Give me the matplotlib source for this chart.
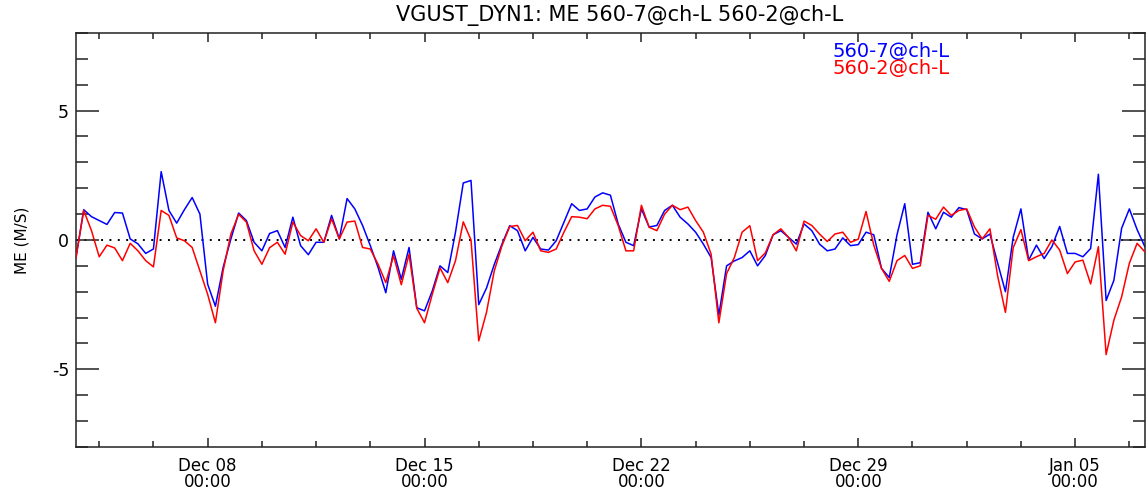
import pandas as pd
import matplotlib
matplotlib.use('Agg')
import matplotlib.pyplot as plt
from matplotlib.ticker import MultipleLocator, AutoMinorLocator

plt.rcParams['axes.unicode_minus'] = False
plt.rcParams['font.family'] = 'DejaVu Sans'

# 6-hourly samples, Dec 03 18:00 .. Jan 07 06:00
start_time = '2014-12-03 18:00'
n_samples = 139

me_560_7 = [
    -0.68, 1.17, 0.90, 0.75, 0.60, 1.06, 1.04, 0.04, -0.15, -0.52,
    -0.35, 2.64, 1.14, 0.65, 1.17, 1.64, 1.00, -1.71, -2.56, -1.06,
    0.04, 1.04, 0.75, -0.09, -0.42, 0.25, 0.36, -0.29, 0.88, -0.22,
    -0.57, -0.09, -0.09, 0.95, 0.04, 1.60, 1.20, 0.56, -0.22, -1.06,
    -2.04, -0.42, -1.52, -0.29, -2.62, -2.74, -1.97, -1.00, -1.26, 0.30,
    2.20, 2.30, -2.50, -1.86, -0.95, -0.16, 0.55, 0.36, -0.42, 0.10,
    -0.35, -0.39, -0.03, 0.69, 1.40, 1.14, 1.20, 1.66, 1.82, 1.73,
    0.62, -0.09, -0.22, 1.20, 0.50, 0.56, 1.14, 1.34, 0.88, 0.62,
    0.30, -0.16, -0.68, -2.90, -1.00, -0.81, -0.68, -0.42, -1.00, -0.60,
    0.20, 0.36, 0.10, -0.16, 0.62, 0.36, -0.16, -0.42, -0.35, 0.08,
    -0.22, -0.18, 0.30, 0.20, -1.10, -1.45, 0.20, 1.40, -0.94, -0.88,
    1.07, 0.43, 1.07, 0.88, 1.25, 1.17, 0.23, 0.04, 0.23, -0.90,
    -2.00, 0.10, 1.20, -0.78, -0.20, -0.72, -0.26, 0.52, -0.52, -0.52,
    -0.65, -0.33, 2.54, -2.34, -1.56, 0.45, 1.20, 0.40, -0.26,
]

me_560_2 = [
    -0.68, 1.14, 0.36, -0.65, -0.20, -0.31, -0.80, -0.13, -0.42, -0.80,
    -1.04, 1.14, 0.95, 0.08, -0.03, -0.29, -1.19, -2.10, -3.20, -1.19,
    0.23, 0.99, 0.69, -0.42, -0.94, -0.30, -0.09, -0.55, 0.69, 0.17,
    -0.03, 0.43, -0.09, 0.82, 0.04, 0.69, 0.73, -0.29, -0.35, -0.94,
    -1.65, -0.61, -1.73, -0.55, -2.64, -3.20, -2.10, -1.08, -1.65, -0.80,
    0.70, 0.00, -3.90, -2.80, -1.20, -0.22, 0.52, 0.56, -0.03, 0.30,
    -0.42, -0.48, -0.35, 0.30, 0.90, 0.88, 0.82, 1.20, 1.34, 1.30,
    0.56, -0.42, -0.42, 1.34, 0.49, 0.36, 1.00, 1.34, 1.17, 1.27,
    0.75, 0.30, -0.55, -3.20, -1.30, -0.68, 0.30, 0.55, -0.80, -0.50,
    0.20, 0.43, 0.10, -0.42, 0.73, 0.56, 0.23, -0.06, 0.23, 0.30,
    -0.09, 0.03, 1.10, -0.20, -1.10, -1.60, -0.80, -0.60, -1.10, -1.00,
    0.95, 0.80, 1.27, 0.95, 1.14, 1.20, 0.50, 0.04, 0.43, -1.40,
    -2.80, -0.30, 0.40, -0.80, -0.65, -0.52, 0.00, -0.39, -1.30, -0.85,
    -0.78, -1.70, -0.26, -4.43, -3.10, -2.20, -0.90, -0.13, -0.46,
]

tick_dates = ['2014-12-08', '2014-12-15', '2014-12-22', '2014-12-29', '2015-01-05']
tick_labels = ['Dec 08\n00:00', 'Dec 15\n00:00', 'Dec 22\n00:00', 'Dec 29\n00:00', 'Jan 05\n00:00']

times = pd.date_range(start_time, periods=n_samples, freq='6h')

fig = plt.figure(figsize=(11.46, 4.9), dpi=100)
ax = fig.add_axes([0.0663, 0.0878, 0.9327, 0.845])

ax.axhline(0, color='black', linestyle=(0, (1, 3.3)), linewidth=1.4, zorder=1)
ax.plot(times, me_560_7, color='blue', linewidth=1.1, zorder=2)
ax.plot(times, me_560_2, color='red', linewidth=1.1, zorder=3)

ax.set_xlim(times[0], times[-1])
ax.set_ylim(-8, 8)

ax.set_xticks(pd.to_datetime(tick_dates), tick_labels, fontsize=12, linespacing=0.88)
ax.xaxis.set_minor_locator(AutoMinorLocator(4))
ax.yaxis.set_major_locator(MultipleLocator(5))
ax.yaxis.set_minor_locator(MultipleLocator(1))

ax.tick_params(which='both', direction='in', top=True, right=True, width=1.1, color='#222222')
ax.tick_params(axis='x', which='major', length=6.5, pad=7)
ax.tick_params(axis='x', which='minor', length=4)
ax.tick_params(axis='y', which='major', length=16.5, pad=5, labelsize=12.5)
ax.tick_params(axis='y', which='minor', length=8.6)
for sp in ax.spines.values():
    sp.set_linewidth(1.1)
    sp.set_color('#222222')

fig.text(620 / 1146, 1 - 15 / 490, 'VGUST_DYN1: ME 560-7@ch-L 560-2@ch-L',
         ha='center', va='center', fontsize=15)
fig.text(22 / 1146, 1 - 240 / 490, 'ME (M/S)', rotation=90,
         ha='center', va='center', fontsize=11)

ax.text(0.7075, 0.954, '560-7@ch-L', color='blue', fontsize=14,
        transform=ax.transAxes, va='center', ha='left')
ax.text(0.7075, 0.913, '560-2@ch-L', color='red', fontsize=14,
        transform=ax.transAxes, va='center', ha='left')

fig.savefig('out.png', dpi=100)
